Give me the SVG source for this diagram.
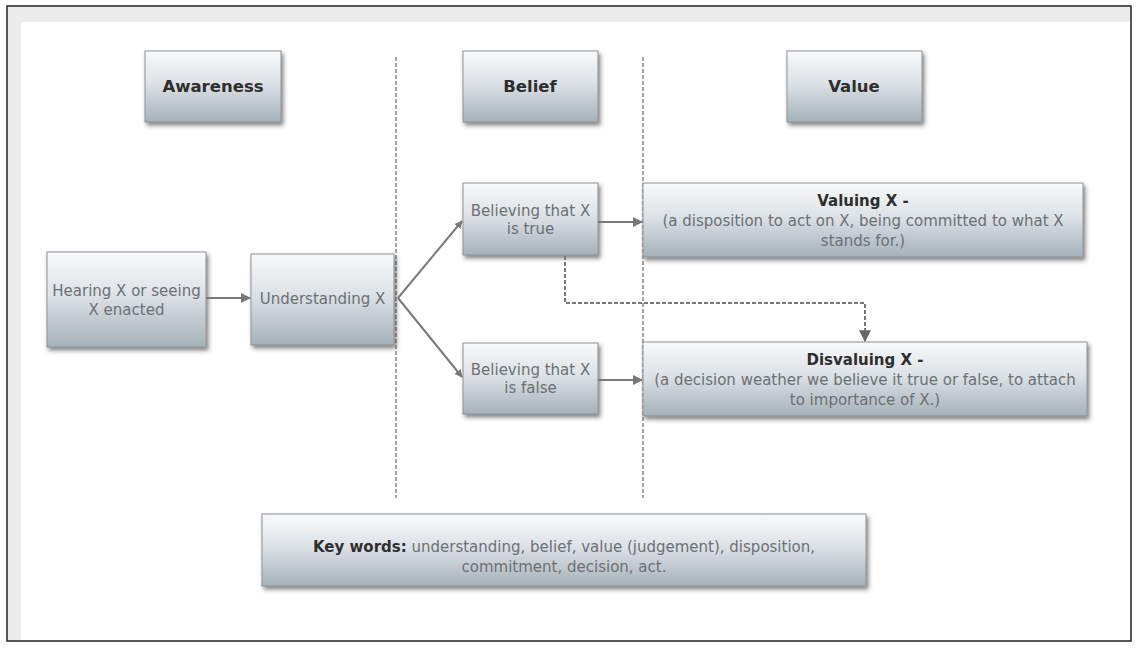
<svg xmlns="http://www.w3.org/2000/svg" width="1138" height="648" viewBox="0 0 1138 648">
<defs>
<linearGradient id="g" x1="0" y1="0" x2="0" y2="1">
<stop offset="0" stop-color="#f8f9fa"/>
<stop offset="0.45" stop-color="#dde2e6"/>
<stop offset="1" stop-color="#a5b1b9"/>
</linearGradient>
<filter id="sh" x="-10%" y="-10%" width="130%" height="140%">
<feDropShadow dx="2" dy="3" stdDeviation="2" flood-color="#333" flood-opacity="0.6"/>
</filter>
<marker id="ah" viewBox="0 0 10 10" refX="9" refY="5" markerWidth="5" markerHeight="5" orient="auto" markerUnits="strokeWidth">
<path d="M0,0 L10,5 L0,10 z" fill="#777"/>
</marker>
<marker id="ah2" viewBox="0 0 10 10" refX="9" refY="5" markerWidth="4" markerHeight="4" orient="auto" markerUnits="strokeWidth">
<path d="M0,0 L10,5 L0,10 z" fill="#777"/>
</marker>
<marker id="ahd" viewBox="0 0 10 10" refX="9" refY="5" markerWidth="6" markerHeight="6" orient="auto" markerUnits="strokeWidth">
<path d="M0,0 L10,5 L0,10 z" fill="#666"/>
</marker>
</defs>
<style>
.box{fill:url(#g);stroke:#8d9296;stroke-width:1;filter:url(#sh)}
.hd{font-family:"DejaVu Sans",Verdana,sans-serif;font-size:16.5px;font-weight:bold;fill:#2e2e2e;text-anchor:middle}
.tx{font-family:"DejaVu Sans",Verdana,sans-serif;font-size:15px;fill:#6c7074;text-anchor:middle}
.bt{font-family:"DejaVu Sans",Verdana,sans-serif;font-size:15px;font-weight:bold;fill:#2e2e2e}
.sep{stroke:#888;stroke-width:1.5;stroke-dasharray:4,2;fill:none}
.con{stroke:#7a7a7a;stroke-width:2;fill:none}
</style>
<rect x="0" y="0" width="1138" height="648" fill="#ffffff"/>
<rect x="8" y="7" width="1123" height="15" fill="#ececec"/>
<rect x="8" y="7" width="13" height="634" fill="#ececec"/>
<rect x="7" y="6" width="1124" height="635" fill="none" stroke="#222" stroke-width="1.5"/>

<g id="separators">
<line class="sep" x1="396" y1="57" x2="396" y2="498"/>
<line class="sep" x1="643" y1="57" x2="643" y2="498"/>
</g>

<g id="awareness"><rect class="box" x="145" y="51" width="136" height="71"/><text class="hd" x="213" y="92">Awareness</text></g>
<g id="belief"><rect class="box" x="463" y="51" width="135" height="71"/><text class="hd" x="530" y="92">Belief</text></g>
<g id="value"><rect class="box" x="787" y="51" width="135" height="71"/><text class="hd" x="854" y="92">Value</text></g>

<g id="hearing"><rect class="box" x="47" y="252" width="159" height="95"/>
<text class="tx" x="126.5" y="296">Hearing X or seeing</text><text class="tx" x="126.5" y="315">X enacted</text></g>
<g id="understanding"><rect class="box" x="251" y="254" width="143" height="91"/>
<text class="tx" x="322.5" y="304">Understanding X</text></g>
<g id="believing-true"><rect class="box" x="463" y="183" width="135" height="72"/>
<text class="tx" x="530.5" y="216">Believing that X</text><text class="tx" x="530.5" y="234">is true</text></g>
<g id="believing-false"><rect class="box" x="463" y="343" width="135" height="71"/>
<text class="tx" x="530.5" y="375">Believing that X</text><text class="tx" x="530.5" y="393">is false</text></g>
<g id="valuing"><rect class="box" x="643" y="183" width="440" height="74"/>
<text class="bt" x="863" y="206" text-anchor="middle">Valuing X -</text>
<text class="tx" x="863" y="226">(a disposition to act on X, being committed to what X</text>
<text class="tx" x="863" y="246">stands for.)</text></g>
<g id="disvaluing"><rect class="box" x="643" y="342" width="444" height="74"/>
<text class="bt" x="865" y="365" text-anchor="middle">Disvaluing X -</text>
<text class="tx" x="865" y="385">(a decision weather we believe it true or false, to attach</text>
<text class="tx" x="865" y="405">to importance of X.)</text></g>
<g id="keywords"><rect class="box" x="262" y="514" width="604" height="72"/>
<text class="tx" x="564" y="552"><tspan class="bt">Key words:</tspan>  understanding, belief, value (judgement), disposition,</text>
<text class="tx" x="564" y="572">commitment, decision, act.</text></g>

<g id="connectors">
<line class="con" x1="206" y1="298" x2="250" y2="298" marker-end="url(#ah)"/>
<line class="con" x1="398" y1="298" x2="462" y2="221" stroke-width="3" marker-end="url(#ah2)"/>
<line class="con" x1="398" y1="298" x2="462" y2="377" stroke-width="3" marker-end="url(#ah2)"/>
<line class="con" x1="598" y1="222" x2="642" y2="222" marker-end="url(#ah)"/>
<line class="con" x1="598" y1="380" x2="642" y2="380" marker-end="url(#ah)"/>
<path d="M565,256 V303 H865 V341" fill="none" stroke="#777" stroke-width="2" stroke-dasharray="4,2" marker-end="url(#ahd)"/>
</g>
</svg>
